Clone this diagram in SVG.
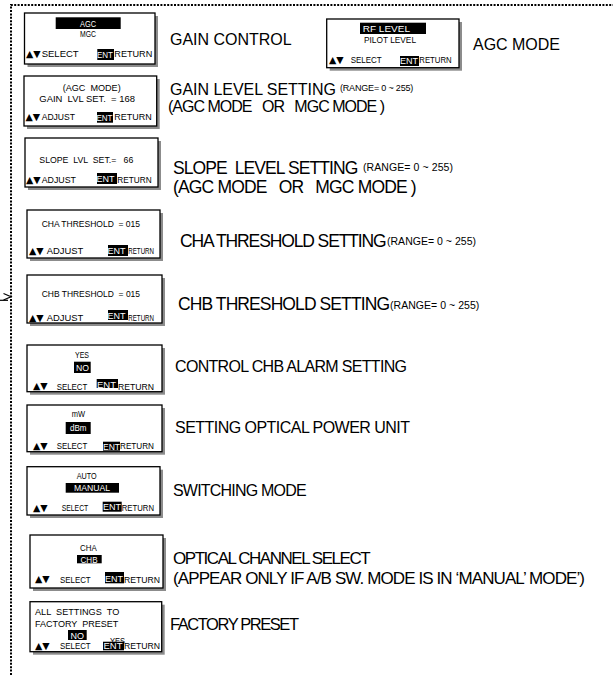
<svg xmlns="http://www.w3.org/2000/svg" width="613" height="675" viewBox="0 0 613 675">
<style>
  .bg{fill:#fff}
  .frame{fill:none;stroke:#000;stroke-width:2;stroke-dasharray:2 1.4}
  .sh{fill:#8c8c8c}
  .lcd{fill:#fff;stroke:#000;stroke-width:1.3}
  .inv{fill:#000}
  text{font-family:"Liberation Sans",Arial,"DejaVu Sans",sans-serif;fill:#000}
  .t{font-size:8.5px}
  .tri{font-size:9.5px;font-family:"DejaVu Sans","Liberation Sans",sans-serif}
  .w{fill:#fff}
  .lbl{font-size:16px}
  .big{font-size:17.5px}
  .rng{font-size:9px}
  .rng2{font-size:10.5px}
  .conn{fill:none;stroke:#000;stroke-width:1.2}
</style>
<rect class="bg" x="0" y="0" width="613" height="675"/>

<g id="connectors">
  <path class="frame" d="M11,675 V5 H613"/>
  <polyline class="conn" points="3.5,293.5 11,296.8 3.5,300"/>
  <line class="conn" x1="0" y1="300.3" x2="8" y2="300.3"/>
</g>

<g id="gain-control">
  <rect class="sh" x="27.5" y="16" width="130.5" height="51"/>
  <rect class="lcd" x="24.5" y="13" width="130.5" height="51"/>
  <rect class="inv" x="55.7" y="17.3" width="65" height="11.7"/>
  <text class="t w" x="88" y="26.7" text-anchor="middle" textLength="16" lengthAdjust="spacingAndGlyphs">AGC</text>
  <text class="t" x="88" y="36.7" text-anchor="middle" textLength="16" lengthAdjust="spacingAndGlyphs">MGC</text>
  <text class="tri" x="26" y="57">▲▼</text>
  <text class="t" x="41.7" y="56.7" textLength="37" lengthAdjust="spacingAndGlyphs">SELECT</text>
  <rect class="inv" x="97.3" y="49" width="16.7" height="11"/>
  <text class="t w" x="97" y="57.5" textLength="16" lengthAdjust="spacingAndGlyphs">ENT</text>
  <text class="t" x="114.3" y="56.7" textLength="38" lengthAdjust="spacingAndGlyphs">RETURN</text>
  <text class="lbl" x="170" y="45" textLength="121.7">GAIN CONTROL</text>
</g>

<g id="agc-mode">
  <rect class="sh" x="329.7" y="22" width="132.3" height="48.7"/>
  <rect class="lcd" x="326.7" y="19" width="132.3" height="48.7"/>
  <rect class="inv" x="360" y="22.7" width="66" height="11.3"/>
  <text class="t w" x="362.7" y="32.3" textLength="47.3" lengthAdjust="spacingAndGlyphs">RF LEVEL</text>
  <text class="t" x="364" y="42.7" textLength="52" lengthAdjust="spacingAndGlyphs">PILOT LEVEL</text>
  <text class="tri" x="329" y="63.3">▲▼</text>
  <text class="t" x="350.7" y="63" textLength="31" lengthAdjust="spacingAndGlyphs">SELECT</text>
  <rect class="inv" x="400" y="56" width="19" height="10"/>
  <text class="t w" x="400" y="64.3" textLength="18" lengthAdjust="spacingAndGlyphs">ENT</text>
  <text class="t" x="419.3" y="63" textLength="32.4" lengthAdjust="spacingAndGlyphs">RETURN</text>
  <text class="lbl" x="473" y="50" textLength="87">AGC MODE</text>
</g>

<g id="gain-level">
  <rect class="sh" x="27" y="79" width="132.7" height="50"/>
  <rect class="lcd" x="24" y="76" width="132.7" height="50"/>
  <text class="t" x="62.7" y="90.7" textLength="58" lengthAdjust="spacingAndGlyphs" xml:space="preserve">(AGC  MODE)</text>
  <text class="t" x="39.3" y="101.7" textLength="95.7" lengthAdjust="spacingAndGlyphs" xml:space="preserve">GAIN  LVL SET.  = 168</text>
  <text class="tri" x="25.5" y="120.3">▲▼</text>
  <text class="t" x="41.7" y="120" textLength="33.3" lengthAdjust="spacingAndGlyphs">ADJUST</text>
  <rect class="inv" x="97" y="112" width="16" height="10.7"/>
  <text class="t w" x="96.5" y="120.5" textLength="16" lengthAdjust="spacingAndGlyphs">ENT</text>
  <text class="t" x="114.3" y="120" textLength="37.4" lengthAdjust="spacingAndGlyphs">RETURN</text>
  <text class="lbl" x="170" y="95" textLength="166">GAIN LEVEL SETTING</text>
  <text class="rng" x="340" y="90.5" textLength="73.3">(RANGE= 0 ~ 255)</text>
  <text class="lbl" x="168" y="111.5" textLength="217" xml:space="preserve">(AGC MODE   OR   MGC MODE )</text>
</g>

<g id="slope-level">
  <rect class="sh" x="28" y="141" width="133" height="49"/>
  <rect class="lcd" x="25" y="138" width="133" height="49"/>
  <text class="t" x="39.3" y="163" textLength="94" lengthAdjust="spacingAndGlyphs" xml:space="preserve">SLOPE  LVL  SET.=   66</text>
  <text class="tri" x="26" y="183.3">▲▼</text>
  <text class="t" x="41.7" y="183" textLength="34.3" lengthAdjust="spacingAndGlyphs">ADJUST</text>
  <rect class="inv" x="97" y="173" width="20" height="11"/>
  <text class="t w" x="96.5" y="182" textLength="18" lengthAdjust="spacingAndGlyphs">ENT</text>
  <text class="t" x="117.3" y="183" textLength="34.4" lengthAdjust="spacingAndGlyphs">RETURN</text>
  <text class="big" x="173" y="174" textLength="185.3" xml:space="preserve">SLOPE  LEVEL SETTING</text>
  <text class="rng2" x="363" y="170.7" textLength="90">(RANGE= 0 ~ 255)</text>
  <text class="big" x="173" y="193" textLength="243.7" xml:space="preserve">(AGC MODE   OR   MGC MODE )</text>
</g>

<g id="cha-threshold">
  <rect class="sh" x="30" y="213" width="133" height="48"/>
  <rect class="lcd" x="27" y="210" width="133" height="48"/>
  <text class="t" x="41.7" y="226.7" textLength="98.3" lengthAdjust="spacingAndGlyphs" xml:space="preserve">CHA THRESHOLD  = 015</text>
  <text class="tri" x="29" y="254.3">▲▼</text>
  <text class="t" x="46.7" y="254" textLength="36.6" lengthAdjust="spacingAndGlyphs">ADJUST</text>
  <rect class="inv" x="108" y="245" width="20" height="11"/>
  <text class="t w" x="107.5" y="254" textLength="18" lengthAdjust="spacingAndGlyphs">ENT</text>
  <text class="t" x="128.3" y="254" textLength="25.7" lengthAdjust="spacingAndGlyphs">RETURN</text>
  <text class="big" x="180" y="246.7" textLength="206.7">CHA THRESHOLD SETTING</text>
  <text class="rng2" x="387" y="245" textLength="89">(RANGE= 0 ~ 255)</text>
</g>

<g id="chb-threshold">
  <rect class="sh" x="30" y="278" width="135" height="48"/>
  <rect class="lcd" x="27" y="275" width="135" height="48"/>
  <text class="t" x="41.7" y="296.7" textLength="98.3" lengthAdjust="spacingAndGlyphs" xml:space="preserve">CHB THRESHOLD  = 015</text>
  <text class="tri" x="29" y="321">▲▼</text>
  <text class="t" x="46.7" y="320.7" textLength="36.6" lengthAdjust="spacingAndGlyphs">ADJUST</text>
  <rect class="inv" x="108" y="310" width="20" height="10"/>
  <text class="t w" x="107.5" y="318.5" textLength="18" lengthAdjust="spacingAndGlyphs">ENT</text>
  <text class="t" x="128.3" y="320.7" textLength="25.7" lengthAdjust="spacingAndGlyphs">RETURN</text>
  <text class="big" x="178" y="310" textLength="212">CHB THRESHOLD SETTING</text>
  <text class="rng2" x="390" y="308.5" textLength="89.3">(RANGE= 0 ~ 255)</text>
</g>

<g id="chb-alarm">
  <rect class="sh" x="30" y="348" width="135" height="46.7"/>
  <rect class="lcd" x="27" y="345" width="135" height="46.7"/>
  <text class="t" x="75" y="358" textLength="14" lengthAdjust="spacingAndGlyphs">YES</text>
  <rect class="inv" x="74" y="361.7" width="16.7" height="11.3"/>
  <text class="t w" x="76" y="370.7" textLength="13" lengthAdjust="spacingAndGlyphs">NO</text>
  <text class="tri" x="33" y="388.5">▲▼</text>
  <text class="t" x="56.7" y="390" textLength="30.6" lengthAdjust="spacingAndGlyphs">SELECT</text>
  <rect class="inv" x="96.7" y="379" width="21.3" height="9"/>
  <text class="t w" x="97" y="387.5" textLength="19" lengthAdjust="spacingAndGlyphs">ENT</text>
  <text class="t" x="118" y="390" textLength="36" lengthAdjust="spacingAndGlyphs">RETURN</text>
  <text class="lbl" x="175" y="371.7" textLength="232">CONTROL CHB ALARM SETTING</text>
</g>

<g id="power-unit">
  <rect class="sh" x="30" y="408" width="135" height="46.7"/>
  <rect class="lcd" x="27" y="405" width="135" height="46.7"/>
  <text class="t" x="71.7" y="416.7" textLength="13.3" lengthAdjust="spacingAndGlyphs">mW</text>
  <rect class="inv" x="65.7" y="422" width="25" height="12"/>
  <text class="t w" x="70" y="431.3" textLength="16.5" lengthAdjust="spacingAndGlyphs">dBm</text>
  <text class="tri" x="33" y="449.3">▲▼</text>
  <text class="t" x="56.7" y="449" textLength="30.6" lengthAdjust="spacingAndGlyphs">SELECT</text>
  <rect class="inv" x="103" y="441.7" width="17" height="9"/>
  <text class="t w" x="103" y="449.5" textLength="17" lengthAdjust="spacingAndGlyphs">ENT</text>
  <text class="t" x="120" y="449" textLength="34" lengthAdjust="spacingAndGlyphs">RETURN</text>
  <text class="lbl" x="175" y="432.7" textLength="235">SETTING OPTICAL POWER UNIT</text>
</g>

<g id="switching-mode">
  <rect class="sh" x="30" y="469.7" width="133" height="48.3"/>
  <rect class="lcd" x="27" y="466.7" width="133" height="48.3"/>
  <text class="t" x="76.7" y="479" textLength="20" lengthAdjust="spacingAndGlyphs">AUTO</text>
  <rect class="inv" x="65.7" y="483" width="53.3" height="9.7"/>
  <text class="t w" x="74" y="491.3" textLength="36" lengthAdjust="spacingAndGlyphs">MANUAL</text>
  <text class="tri" x="33" y="511">▲▼</text>
  <text class="t" x="61.7" y="510.7" textLength="26.6" lengthAdjust="spacingAndGlyphs">SELECT</text>
  <rect class="inv" x="102.7" y="501.7" width="19" height="10"/>
  <text class="t w" x="103" y="510.3" textLength="18" lengthAdjust="spacingAndGlyphs">ENT</text>
  <text class="t" x="121.7" y="510.7" textLength="32.3" lengthAdjust="spacingAndGlyphs">RETURN</text>
  <text class="lbl" x="173" y="495.7" textLength="133.7">SWITCHING MODE</text>
</g>

<g id="channel-select">
  <rect class="sh" x="33" y="538" width="133" height="53"/>
  <rect class="lcd" x="30" y="535" width="133" height="53"/>
  <text class="t" x="80" y="551" textLength="16.7" lengthAdjust="spacingAndGlyphs">CHA</text>
  <rect class="inv" x="77" y="555" width="24.7" height="8.3"/>
  <text class="t w" x="80.5" y="562.5" textLength="17" lengthAdjust="spacingAndGlyphs">CHB</text>
  <text class="tri" x="35" y="581.5">▲▼</text>
  <text class="t" x="60" y="583" textLength="30.7" lengthAdjust="spacingAndGlyphs">SELECT</text>
  <rect class="inv" x="105" y="572" width="19" height="11.3"/>
  <text class="t w" x="105" y="582.3" textLength="18" lengthAdjust="spacingAndGlyphs">ENT</text>
  <text class="t" x="124" y="583" textLength="36" lengthAdjust="spacingAndGlyphs">RETURN</text>
  <text class="lbl" x="173" y="564" textLength="197.7" style="font-size:17px">OPTICAL CHANNEL SELECT</text>
  <text class="lbl" x="173" y="583.5" textLength="412" style="font-size:17px">(APPEAR ONLY IF A/B SW. MODE IS IN ‘MANUAL’ MODE’)</text>
</g>

<g id="factory-preset">
  <rect class="sh" x="33" y="604.7" width="131.7" height="50"/>
  <rect class="lcd" x="30" y="601.7" width="131.7" height="50"/>
  <text class="t" x="35" y="615" textLength="84.3" lengthAdjust="spacingAndGlyphs" xml:space="preserve">ALL  SETTINGS  TO</text>
  <text class="t" x="35" y="627.3" textLength="83.3" lengthAdjust="spacingAndGlyphs" xml:space="preserve">FACTORY  PRESET</text>
  <rect class="inv" x="68" y="630" width="18.7" height="10"/>
  <text class="t w" x="70.5" y="638.5" textLength="13.5" lengthAdjust="spacingAndGlyphs">NO</text>
  <text class="t" x="110" y="644" textLength="15" lengthAdjust="spacingAndGlyphs">YES</text>
  <text class="tri" x="35" y="648.5">▲▼</text>
  <text class="t" x="60" y="649" textLength="30.7" lengthAdjust="spacingAndGlyphs">SELECT</text>
  <rect class="inv" x="103" y="641.7" width="21" height="8.6"/>
  <text class="t w" x="103.5" y="649.3" textLength="19" lengthAdjust="spacingAndGlyphs">ENT</text>
  <text class="t" x="124" y="649" textLength="36" lengthAdjust="spacingAndGlyphs">RETURN</text>
  <text class="lbl" x="170" y="630" textLength="129" style="font-size:16.5px">FACTORY PRESET</text>
</g>
</svg>
